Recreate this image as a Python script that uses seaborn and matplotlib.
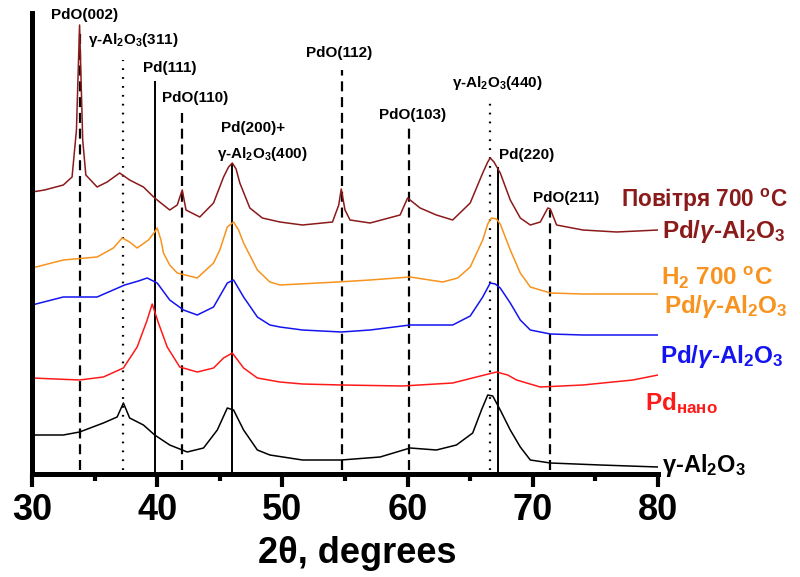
import numpy as np
import pandas as pd
import matplotlib
matplotlib.use("Agg")
import matplotlib.pyplot as plt
import seaborn as sns

# ---------------- data (offset intensities in a.u.) ----------------
air_x = [30.0, 31.0, 32.5, 33.2, 33.55, 33.8, 34.05, 34.3, 35.2, 36.0, 37.0, 37.8, 38.9, 39.8, 41.0, 41.6,
         42.0, 42.3, 43.4, 44.5, 45.3, 45.7, 46.0, 46.3, 46.6, 47.4, 48.4, 49.8, 51.6, 54.0, 54.5, 54.7,
         55.0, 55.4, 57.0, 59.4, 60.0, 61.0, 62.3, 63.6, 65.0, 66.0, 66.4, 66.6, 66.9, 67.4, 68.2, 69.0,
         69.8, 70.6, 71.2, 71.4, 71.9, 74.0, 76.7, 80.0]
air_y = [282, 284, 289, 297, 344, 449, 334, 299, 287, 292, 301, 294, 287, 276, 264, 269,
         284, 264, 257, 271, 297, 307, 311, 305, 291, 266, 256, 252, 249, 252, 269, 285,
         264, 254, 251, 259, 276, 266, 259, 254, 271, 301, 312, 316, 312, 301, 274, 256,
         249, 252, 266, 265, 249, 244, 242, 244]

h2_x = [30.0, 32.5, 35.2, 36.5, 37.2, 37.8, 38.4, 39.3, 39.8, 40.0, 40.3, 40.5, 41.0, 41.6, 43.2, 44.5,
        45.0, 45.6, 46.1, 46.5, 46.9, 48.0, 49.0, 49.8, 54.4, 57.0, 60.2, 62.8, 64.0, 65.0, 66.0, 66.4,
        66.7, 67.1, 67.4, 68.2, 69.0, 69.8, 71.4, 74.0, 80.0]
h2_y = [206, 214, 217, 226, 236, 232, 226, 234, 242, 246, 234, 221, 209, 201, 196, 211,
        224, 247, 252, 244, 231, 204, 192, 189, 192, 194, 197, 192, 196, 207, 234, 250,
        256, 255, 250, 224, 201, 187, 181, 180, 180]

pdal_x = [30.0, 32.5, 35.2, 37.4, 38.5, 39.2, 40.0, 41.0, 42.1, 43.2, 44.5, 45.6, 46.1, 46.9, 48.0, 49.0,
          49.8, 51.6, 54.7, 57.0, 60.2, 63.6, 65.0, 66.0, 66.6, 67.0, 67.4, 68.2, 69.0, 69.8, 71.4, 74.0,
          80.0]
pdal_y = [169, 177, 177, 189, 193, 196, 191, 174, 164, 159, 167, 191, 194, 177, 157, 149,
          147, 144, 142, 144, 149, 149, 158, 177, 191, 190, 186, 171, 154, 144, 140, 139,
          139]

pd_x = [30.0, 33.8, 35.7, 37.3, 38.4, 39.2, 39.6, 40.1, 40.8, 41.8, 43.2, 44.5, 45.3, 46.0, 46.9, 48.0,
        49.8, 51.6, 54.7, 59.6, 63.6, 65.5, 67.1, 68.0, 68.7, 70.6, 74.0, 78.0, 80.0]
pd_y = [96, 94, 97, 106, 127, 154, 170, 151, 127, 107, 102, 106, 116, 121, 106, 96,
        92, 90, 89, 88, 91, 97, 102, 99, 94, 87, 89, 94, 99]

al_x = [30.0, 32.5, 33.8, 35.7, 36.8, 37.3, 37.8, 38.9, 39.8, 41.0, 42.4, 43.7, 44.8, 45.6, 46.1, 46.9,
        48.0, 49.0, 51.6, 54.7, 57.8, 60.2, 62.3, 63.9, 65.2, 65.9, 66.4, 66.8, 67.4, 68.2, 69.0, 69.8,
        71.4, 75.4, 80.0]
al_y = [39, 39, 42, 51, 57, 71, 56, 49, 39, 29, 22, 26, 44, 66, 64, 44,
        24, 19, 14, 14, 17, 26, 24, 29, 41, 64, 79, 78, 64, 44, 27, 14,
        11, 9, 7]

samples = ["air", "h2", "pdal", "pd", "al"]
colors = ["#8b1a1a", "#f7931e", "#1414f0", "#ff1a1a", "#000000"]

# reference reflections: position, top of marker line, style
ref_pos = [33.8, 37.3, 39.8, 42.0, 46.0, 54.8, 60.1, 66.6, 67.2, 71.4]
ref_top = [441, 414, 393, 361, 311, 404, 346, 372, 307, 264]
ref_kind = ["dash", "dot", "solid", "dash", "solid", "dash", "dash", "dot", "solid", "dash"]

peak_labels = ["PdO(002)", r"γ-Al$_2$O$_3$(311)", "Pd(111)", "PdO(110)", "Pd(200)+",
               r"γ-Al$_2$O$_3$(400)", "PdO(112)", "PdO(103)", r"γ-Al$_2$O$_3$(440)", "Pd(220)", "PdO(211)"]
peak_label_x = [34.23, 38.07, 41.02, 43.02, 47.65, 48.37, 54.52, 60.43, 67.14, 69.54, 72.65]
peak_label_y = [459, 434, 406, 376, 346, 320, 421, 359, 391, 319, 276]

sample_labels = [r"Повітря 700 $^{\mathrm{o}}$C", r"Pd/$\mathit{γ}$-Al$_2$O$_3$",
                 r"H$_2$ 700 $^{\mathrm{o}}$C", r"Pd/$\mathit{γ}$-Al$_2$O$_3$",
                 r"Pd/$\mathit{γ}$-Al$_2$O$_3$", r"Pd$_{\mathrm{нано}}$", r"γ-Al$_2$O$_3$"]
sample_label_color = [0, 0, 1, 1, 2, 3, 4]

# ---------------- build table ----------------
xs = [air_x, h2_x, pdal_x, pd_x, al_x]
ys = [air_y, h2_y, pdal_y, pd_y, al_y]
df = pd.concat([pd.DataFrame({"two_theta": x, "I": y, "sample": s}) for x, y, s in zip(xs, ys, samples)],
               ignore_index=True)

# ---------------- style ----------------
sns.set_theme(style="white")
plt.rcParams["font.family"] = ["Liberation Sans", "DejaVu Sans"]
plt.rcParams["font.weight"] = "bold"
plt.rcParams["text.color"] = "black"
plt.rcParams["axes.labelcolor"] = "black"
plt.rcParams["mathtext.fontset"] = "custom"
plt.rcParams["mathtext.rm"] = "Liberation Sans:bold"
plt.rcParams["mathtext.bf"] = "Liberation Sans:bold"
plt.rcParams["mathtext.it"] = "Liberation Sans:italic:bold"
plt.rcParams["mathtext.sf"] = "Liberation Sans:bold"
plt.rcParams["mathtext.default"] = "rm"

W, H = 800, 577
fig = plt.figure(figsize=(8.0, 5.77), dpi=100)
ax = fig.add_axes([32 / W, 1 - 474 / H, (658 - 32) / W, (474 - 13) / H])

sns.lineplot(data=df, x="two_theta", y="I", hue="sample", hue_order=samples,
             palette=dict(zip(samples, colors)), estimator=None, sort=False,
             legend=False, linewidth=1.1, ax=ax)

styles = {"dash": (0, (4.5, 2.6)), "dot": (0, (0.8, 3.2)), "solid": "-"}
for p, t, k in zip(ref_pos, ref_top, ref_kind):
    ax.vlines(p, 0 if k == "solid" else 4, t, colors="black",
              linestyles=styles[k], linewidth=1.6 if k != "solid" else 1.4, zorder=1)

for lab, lx, ly in zip(peak_labels, peak_label_x, peak_label_y):
    ax.text(lx, ly, lab, ha="center", va="center", fontsize=11, fontweight="bold",
            color="black", clip_on=False)

# sample labels at the right (figure pixel positions: left x, baseline y, size)
lab_px = [(621, 207, 16.3), (662, 238, 17.5), (661, 285, 17.5), (664, 313, 17.5),
          (660, 363, 17.5), (645, 410, 17.5), (662, 472, 17.0)]
for (px, py, fs), lab, ci in zip(lab_px, sample_labels, sample_label_color):
    fig.text(px / W, 1 - py / H, lab, ha="left", va="baseline", fontsize=fs,
             fontweight="bold", color=colors[ci])

ax.set_xlim(30, 80)
ax.set_ylim(0, 461)
ax.set_yticks([])
ax.set_xticks([30, 40, 50, 60, 70, 80])
ax.set_xticks([35, 45, 55, 65, 75], minor=True)
ax.tick_params(axis="x", which="major", direction="out", length=9, width=3, labelsize=26, pad=5,
               bottom=True, colors="black")
ax.tick_params(axis="x", which="minor", direction="out", length=5, width=3, bottom=True, colors="black")
for lab in ax.get_xticklabels():
    lab.set_fontweight("bold")
ax.set_xlabel("2θ, degrees", fontsize=26, fontweight="bold", labelpad=4, color="black")
ax.xaxis.set_label_coords(0.52, -0.135)
ax.set_ylabel("")
for s in ["top", "right"]:
    ax.spines[s].set_visible(False)
for s in ["left", "bottom"]:
    ax.spines[s].set_linewidth(3.6)
    ax.spines[s].set_color("black")
ax.patch.set_alpha(0)

fig.savefig("out.png", dpi=100)
